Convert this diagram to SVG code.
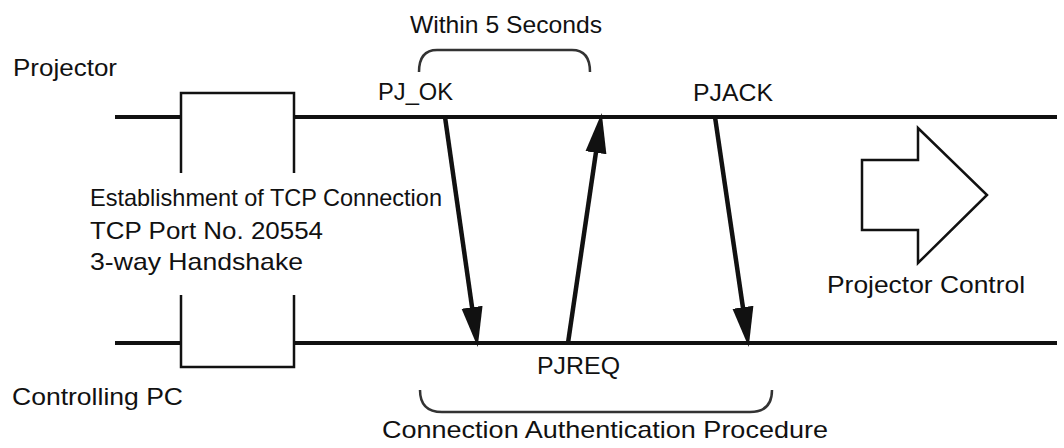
<svg xmlns="http://www.w3.org/2000/svg" width="1064" height="448" viewBox="0 0 1064 448">
<style>
text{font-family:"Liberation Sans",Arial,sans-serif;font-size:24px;fill:#111}
.line{stroke:#111;stroke-width:4;fill:none}
.thin{stroke:#111;stroke-width:2.5;fill:none}
.brace{stroke:#333;stroke-width:2.5;fill:none}
.msg{stroke:#111;stroke-width:4.5;fill:none;marker-end:url(#ah)}
</style>
<defs>
<marker id="ah" markerUnits="userSpaceOnUse" markerWidth="40" markerHeight="24" viewBox="0 0 34 18" refX="6" refY="9" orient="auto">
<path d="M0,0 L34,9 L0,18 z" fill="#111"/>
</marker>
</defs>
<rect width="1064" height="448" fill="#fff"/>
<g id="projector">
<text x="13" y="76" textLength="104" lengthAdjust="spacingAndGlyphs">Projector</text>
<path class="line" d="M115,117 L181,117 M294,117 L1057,117"/>
</g>
<g id="controlling-pc">
<text x="12" y="405" textLength="171" lengthAdjust="spacingAndGlyphs">Controlling PC</text>
<path class="line" d="M115,343 L181,343 M294,343 L1057,343"/>
</g>
<g id="tcp-establishment">
<path class="thin" d="M181,173 L181,93 L294,93 L294,173"/>
<path class="thin" d="M181,295 L181,367 L294,367 L294,295"/>
<text x="90" y="206" textLength="352" lengthAdjust="spacingAndGlyphs">Establishment of TCP Connection</text>
<text x="90" y="239" textLength="233" lengthAdjust="spacingAndGlyphs">TCP Port No. 20554</text>
<text x="90" y="270" textLength="213" lengthAdjust="spacingAndGlyphs">3-way Handshake</text>
</g>
<g id="within-5-seconds">
<path class="brace" d="M419,72 Q419,50 437,50 L572,50 Q590,50 590,72"/>
<text x="410" y="33" textLength="192" lengthAdjust="spacingAndGlyphs">Within 5 Seconds</text>
</g>
<g id="label-pjok"><text x="378" y="100" textLength="75" lengthAdjust="spacingAndGlyphs">PJ_OK</text></g>
<g id="label-pjreq"><text x="537" y="374" textLength="83" lengthAdjust="spacingAndGlyphs">PJREQ</text></g>
<g id="label-pjack"><text x="693" y="101" textLength="80" lengthAdjust="spacingAndGlyphs">PJACK</text></g>
<g id="auth-procedure">
<path class="brace" d="M420,390 Q420,412 442,412 L750,412 Q772,412 772,390"/>
<text x="382" y="438" textLength="446" lengthAdjust="spacingAndGlyphs">Connection Authentication Procedure</text>
</g>
<g id="projector-control">
<polygon class="thin" points="862,160 918,160 918,128 987,195 918,263 918,230 862,230" fill="#fff"/>
<text x="827" y="293" textLength="198" lengthAdjust="spacingAndGlyphs">Projector Control</text>
</g>
<g id="connectors">
<line class="msg" x1="445" y1="117" x2="473.06" y2="314.28"/>
<line class="msg" x1="568" y1="343" x2="596.94" y2="145.70"/>
<line class="msg" x1="715" y1="117" x2="743.94" y2="314.30"/>
</g>
</svg>
